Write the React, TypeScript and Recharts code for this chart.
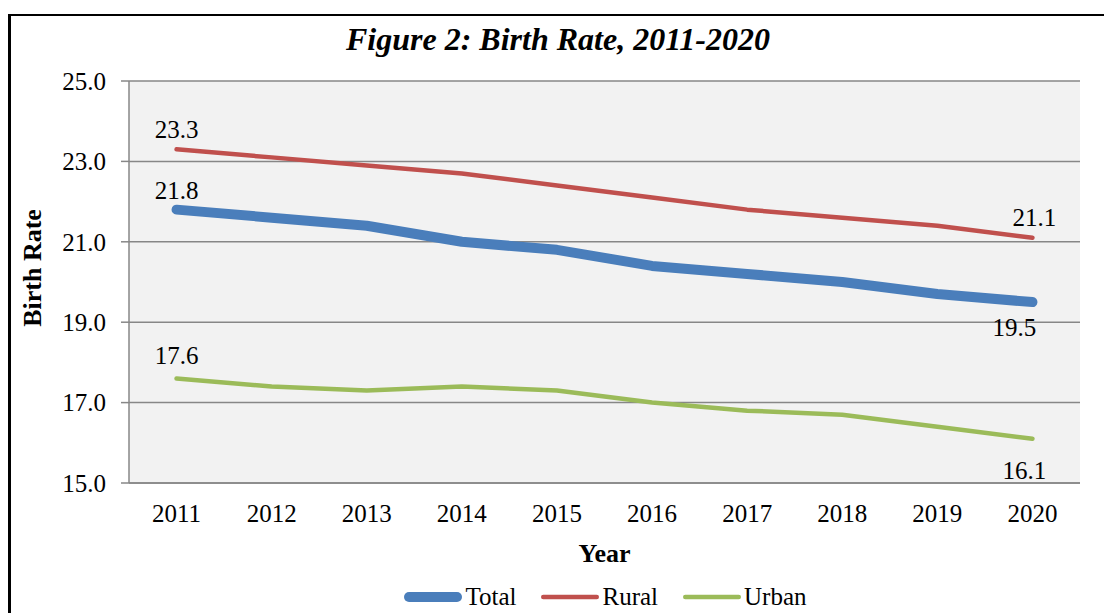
import React from 'react'
import { LineChart, Line, XAxis, YAxis, CartesianGrid, Legend } from 'recharts'

const years = ['2011', '2012', '2013', '2014', '2015', '2016', '2017', '2018', '2019', '2020']
const total = [21.8, 21.6, 21.4, 21.0, 20.8, 20.4, 20.2, 20.0, 19.7, 19.5]
const rural = [23.3, 23.1, 22.9, 22.7, 22.4, 22.1, 21.8, 21.6, 21.4, 21.1]
const urban = [17.6, 17.4, 17.3, 17.4, 17.3, 17.0, 16.8, 16.7, 16.4, 16.1]
const yTicks = [15, 17, 19, 21, 23, 25]
// boundaries between year bands, used for the tick marks
const bandTicks = [0, 1, 2, 3, 4, 5, 6, 7, 8, 9, 10]

const data = years.map((year, i) => ({
  year,
  Total: total[i],
  Rural: rural[i],
  Urban: urban[i],
}))

const FONT = '"Liberation Serif", "Times New Roman", serif'
const GRID = '#878787'

const series = [
  { key: 'Total', color: '#4a7ebb', width: 10 },
  { key: 'Rural', color: '#c0504d', width: 4.5 },
  { key: 'Urban', color: '#9bbb59', width: 4.5 },
]

// offsets [dx, dy] of the first and last value labels
const labelOffsets: Record<string, [number, number][]> = {
  Total: [[0, -11], [-18, 34]],
  Rural: [[0, -11], [2, -12]],
  Urban: [[0, -14], [-8, 40]],
}

function endLabel(name: string) {
  return (props: any) => {
    const { x, y, index, value } = props
    const last = data.length - 1
    if (index !== 0 && index !== last) return <g />
    const [dx, dy] = labelOffsets[name][index === 0 ? 0 : 1]
    return (
      <text x={x + dx} y={y + dy} textAnchor="middle" fontSize={25} fontFamily={FONT} fill="#000">
        {Number(value).toFixed(1)}
      </text>
    )
  }
}

function LegendContent() {
  return (
    <div style={{ display: 'flex', justifyContent: 'center', alignItems: 'center', height: 30, paddingLeft: 130 }}>
      {series.map((s) => (
        <div key={s.key} style={{ display: 'flex', alignItems: 'center', marginRight: 24 }}>
          <svg width={60} height={14}>
            <line x1={s.width / 2 + 1} y1={7} x2={59 - s.width / 2} y2={7} stroke={s.color}
              strokeWidth={s.width} strokeLinecap="round" />
          </svg>
          <span style={{ fontFamily: FONT, fontSize: 25, marginLeft: 2, lineHeight: '30px' }}>{s.key}</span>
        </div>
      ))}
    </div>
  )
}

export default function App() {
  return (
    <div style={{ position: 'relative', width: 1104, height: 613, overflow: 'hidden', background: '#fff' }}>
      <style>{'body{margin:0}'}</style>
      <div style={{
        position: 'absolute', left: 8, top: 14, width: 1300, height: 800,
        borderLeft: '3px solid #000', borderTop: '2px solid #000',
      }} />
      <div style={{
        position: 'absolute', left: 0, top: 23, width: 1116, textAlign: 'center',
        fontFamily: FONT, fontWeight: 'bold', fontStyle: 'italic', fontSize: 32, lineHeight: 1,
      }}>
        Figure 2: Birth Rate, 2011-2020
      </div>
      <div style={{ position: 'absolute', left: 0, top: 0 }}>
        <LineChart
          width={1104}
          height={613}
          data={data}
          margin={{ top: 81, right: 24, bottom: 1, left: 0 }}
          style={{ fontFamily: FONT }}
        >
          <CartesianGrid vertical={false} stroke={GRID} strokeWidth={1.5} fill="#f2f2f2" />
          <XAxis
            xAxisId="band"
            type="number"
            domain={[0, 10]}
            ticks={bandTicks}
            tick={false}
            tickSize={7}
            height={1}
            stroke={GRID}
            strokeWidth={1.5}
            allowDataOverflow
          />
          <XAxis
            xAxisId="cat"
            dataKey="year"
            scale="band"
            height={98}
            axisLine={false}
            tickLine={false}
            tickSize={7}
            tickMargin={13}
            interval={0}
            tick={{ fill: '#000', fontSize: 25, fontFamily: FONT }}
            label={{
              content: (p: any) => (
                <text x={p.viewBox.x + p.viewBox.width / 2} y={p.viewBox.y + 78} textAnchor="middle"
                  fontSize={26} fontWeight="bold" fontFamily={FONT} fill="#000">
                  Year
                </text>
              ),
            }}
          />
          <YAxis
            domain={[15, 25]}
            ticks={yTicks}
            interval={0}
            width={129}
            tickSize={8}
            tickMargin={15}
            stroke={GRID}
            strokeWidth={1.5}
            tickFormatter={(v: number) => v.toFixed(1)}
            tick={{ fill: '#000', fontSize: 25, fontFamily: FONT }}
            label={{
              content: (p: any) => {
                const cy = p.viewBox.y + p.viewBox.height / 2 - 14
                return (
                  <text x={41} y={cy} transform={`rotate(-90, 41, ${cy})`} textAnchor="middle"
                    fontSize={26} fontWeight="bold" fontFamily={FONT} fill="#000">
                    Birth Rate
                  </text>
                )
              },
            }}
          />
          <Legend verticalAlign="bottom" content={<LegendContent />} wrapperStyle={{ left: 0, width: 1104 }} />
          {series.map((s) => (
            <Line
              key={s.key}
              xAxisId="cat"
              type="linear"
              dataKey={s.key}
              stroke={s.color}
              strokeWidth={s.width}
              strokeLinecap="round"
              strokeLinejoin="round"
              dot={false}
              activeDot={false}
              label={endLabel(s.key)}
              isAnimationActive={false}
            />
          ))}
        </LineChart>
      </div>
    </div>
  )
}
